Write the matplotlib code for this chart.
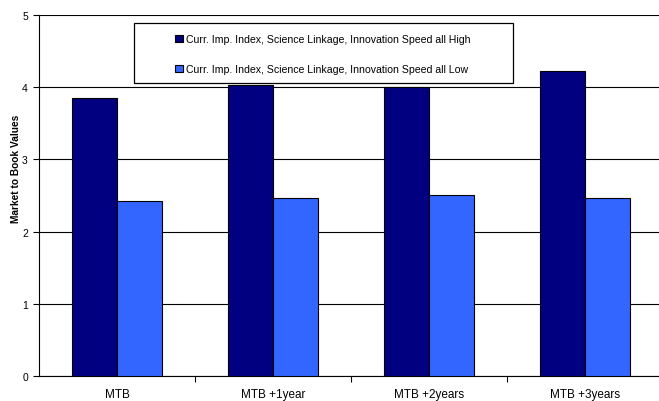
import matplotlib
matplotlib.use("Agg")
import matplotlib.pyplot as plt
import numpy as np
from matplotlib.patches import Rectangle

plt.rcParams['font.family'] = ['Liberation Sans', 'DejaVu Sans']

# data
categories = ["MTB", "MTB +1year", "MTB +2years", "MTB +3years"]
high_vals = [3.85, 4.03, 4.00, 4.22]
low_vals = [2.43, 2.47, 2.51, 2.46]
labels = ["Curr. Imp. Index, Science Linkage, Innovation Speed all High",
          "Curr. Imp. Index, Science Linkage, Innovation Speed all Low"]

W, H = 659, 402
fig = plt.figure(figsize=(W / 100, H / 100), dpi=100)
ax = fig.add_axes([39 / W, 25 / H, 624 / W, 361 / H])

x = np.arange(len(categories))
bw = 0.29
b1 = ax.bar(x - bw / 2, high_vals, bw, color="#000080", edgecolor="black", linewidth=0.8, label=labels[0], zorder=3)
b2 = ax.bar(x + bw / 2, low_vals, bw, color="#3366FF", edgecolor="black", linewidth=0.8, label=labels[1], zorder=3)

ax.set_xlim(-0.5, len(categories) - 0.5)
ax.set_ylim(0, 5)
ax.set_yticks(range(0, 6))
ax.yaxis.grid(True, color="black", linewidth=0.8, zorder=0)
ax.set_axisbelow(True)

ax.set_xticks(x)
ax.set_xticklabels(categories, fontsize=8.5)
ax.set_xticks(x[:-1] + 0.5, minor=True)
ax.tick_params(axis="x", which="major", length=0, pad=9)
ax.tick_params(axis="x", which="minor", length=4, width=0.8, direction="out")
ax.tick_params(axis="y", length=4, width=0.8, direction="out", labelsize=7.5, pad=4)

for s in ["top", "right"]:
    ax.spines[s].set_visible(False)
ax.spines["left"].set_linewidth(0.8)
ax.spines["bottom"].set_linewidth(0.8)

ax.set_ylabel("Market to Book Values", fontsize=7.3, fontweight="bold")
ax.yaxis.set_label_coords(-18 / 624, 0.576)

# legend box
fig.patches.append(Rectangle((134 / W, 1 - 84 / H), (513 - 134) / W, 60 / H,
                             transform=fig.transFigure, facecolor="white",
                             edgecolor="black", linewidth=0.9, zorder=5))
leg = fig.legend(handles=[b1, b2], labels=labels, loc="center",
                 bbox_to_anchor=(323 / W, 1 - 55 / H), frameon=False,
                 fontsize=7.6, handlelength=0.7, handleheight=0.7,
                 handletextpad=0.3, labelspacing=1.9)
leg.set_zorder(6)

fig.savefig("out.png", dpi=100)
